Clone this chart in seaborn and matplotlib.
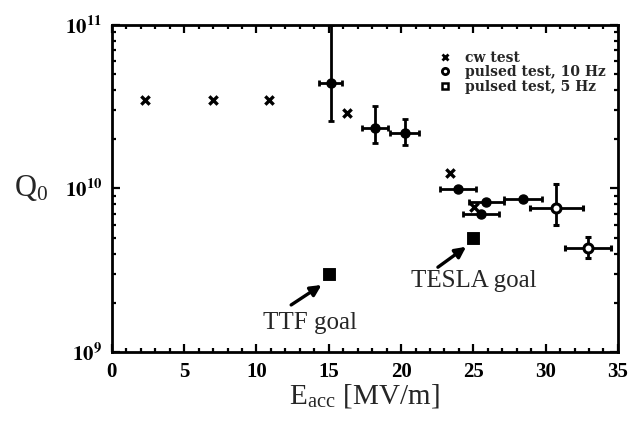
import numpy as np
import pandas as pd
import matplotlib
matplotlib.use("Agg")
import matplotlib.pyplot as plt
from matplotlib.lines import Line2D
from matplotlib.ticker import LogLocator, MultipleLocator, NullFormatter
import seaborn as sns

# cw test (no error bars)
cw_E = [2.3, 7.0, 10.9, 16.25, 23.4, 25.05]
cw_Q = [3.5e10, 3.5e10, 3.5e10, 2.9e10, 1.24e10, 7.7e9]

# pulsed test, 10 Hz
p10_E = [15.15, 18.2, 20.25, 23.95, 25.9, 25.55, 28.45]
p10_Q = [4.4e10, 2.35e10, 2.18e10, 9.9e9, 8.3e9, 6.95e9, 8.6e9]
p10_Eerr = [0.8, 0.9, 1.0, 1.25, 1.2, 1.25, 1.3]
p10_Qlo = [2.6e10, 1.9e10, 1.85e10, 9.9e9, 8.3e9, 6.95e9, 8.6e9]
p10_Qhi = [1.0e11, 3.2e10, 2.67e10, 9.9e9, 8.3e9, 6.95e9, 8.6e9]

# pulsed test, 5 Hz
p5_E = [30.75, 32.95]
p5_Q = [7.55e9, 4.3e9]
p5_Eerr = [1.8, 1.6]
p5_Qlo = [6.0e9, 3.74e9]
p5_Qhi = [1.06e10, 5.05e9]

# design goals
goal_E = [15, 25]
goal_Q = [3.0e9, 5.0e9]
goal_names = ["TTF goal", "TESLA goal"]

sns.set_theme(style="ticks")
plt.rcParams["font.family"] = ["Liberation Serif", "DejaVu Serif"]
plt.rcParams["mathtext.fontset"] = "stix"

fig = plt.figure(figsize=(6.43, 4.28), dpi=100)
ax = fig.add_axes([0.174, 0.1776, 0.787, 0.764])

cw = pd.DataFrame({"E": cw_E, "Q": cw_Q})
sns.scatterplot(data=cw, x="E", y="Q", marker="x", s=36, color="black",
                linewidth=2.4, ax=ax, legend=False, zorder=3)

def asym(center, lo, hi):
    c = np.asarray(center)
    return [c - np.asarray(lo), np.asarray(hi) - c]

ax.errorbar(p10_E, p10_Q, xerr=p10_Eerr, yerr=asym(p10_Q, p10_Qlo, p10_Qhi),
            fmt="o", ms=6.5, color="black", mfc="black", ecolor="black",
            elinewidth=2.0, capsize=2.5, capthick=2.0, zorder=3)
ax.errorbar(p5_E, p5_Q, xerr=p5_Eerr, yerr=asym(p5_Q, p5_Qlo, p5_Qhi),
            fmt="o", ms=6.5, color="black", mfc="white", mew=2.2,
            ecolor="black", elinewidth=2.0, capsize=2.5, capthick=2.0, zorder=3)

goals = pd.DataFrame({"E": goal_E, "Q": goal_Q})
sns.scatterplot(data=goals, x="E", y="Q", marker="s", s=64, color="black",
                edgecolor="black", ax=ax, legend=False, zorder=3)

# arrows pointing at the goals, with their captions
arrow_kw = dict(arrowstyle="-|>", color="black", lw=2.4,
                mutation_scale=16, shrinkA=0, shrinkB=0)
ax.annotate("", xy=(14.5, 2.57e9), xytext=(12.4, 1.94e9), arrowprops=arrow_kw)
ax.annotate("", xy=(24.5, 4.4e9), xytext=(22.55, 3.3e9), arrowprops=arrow_kw)
ax.text(13.7, 1.5e9, goal_names[0], ha="center", va="center", fontsize=18)
ax.text(25.0, 2.72e9, goal_names[1], ha="center", va="center", fontsize=18)

ax.set_yscale("log")
ax.set_xlim(0, 35)
ax.set_ylim(1e9, 1e11)
ax.xaxis.set_major_locator(MultipleLocator(5))
ax.xaxis.set_minor_locator(MultipleLocator(1))
ax.yaxis.set_minor_locator(LogLocator(base=10, subs=np.arange(2, 10), numticks=20))
ax.yaxis.set_minor_formatter(NullFormatter())
ax.set_yticks([1e9, 1e10, 1e11])
ax.set_yticklabels([r"$\mathbf{10^{9}}$", r"$\mathbf{10^{10}}$", r"$\mathbf{10^{11}}$"])

ax.tick_params(which="both", direction="in", top=True, right=True,
               width=1.6, colors="black")
ax.tick_params(which="major", length=6, labelsize=15, pad=7)
ax.tick_params(which="minor", length=3)
for lbl in ax.get_xticklabels():
    lbl.set_fontweight("bold")
for sp in ax.spines.values():
    sp.set_linewidth(2.0)
    sp.set_color("black")

ax.set_xlabel(r"E$_{\mathregular{acc}}$ [MV/m]", fontsize=21, labelpad=0)
ax.set_ylabel(r"Q$_{\mathregular{0}}$", fontsize=22, rotation=0, labelpad=24,
              va="center")

handles = [
    Line2D([], [], marker="x", ls="none", color="black", ms=5, mew=2),
    Line2D([], [], marker="o", ls="none", color="black", mfc="white", ms=4.5, mew=2),
    Line2D([], [], marker="s", ls="none", color="black", mfc="white", ms=4.5, mew=1.8),
]
ax.legend(handles, ["cw test", "pulsed test, 10 Hz", "pulsed test, 5 Hz"],
          loc="upper right", bbox_to_anchor=(1.0, 0.96), frameon=False,
          prop={"family": "DejaVu Serif", "size": 10, "weight": "bold"},
          handletextpad=0.9, labelspacing=0.05, handlelength=1.0)

fig.savefig("out.png", dpi=100)
